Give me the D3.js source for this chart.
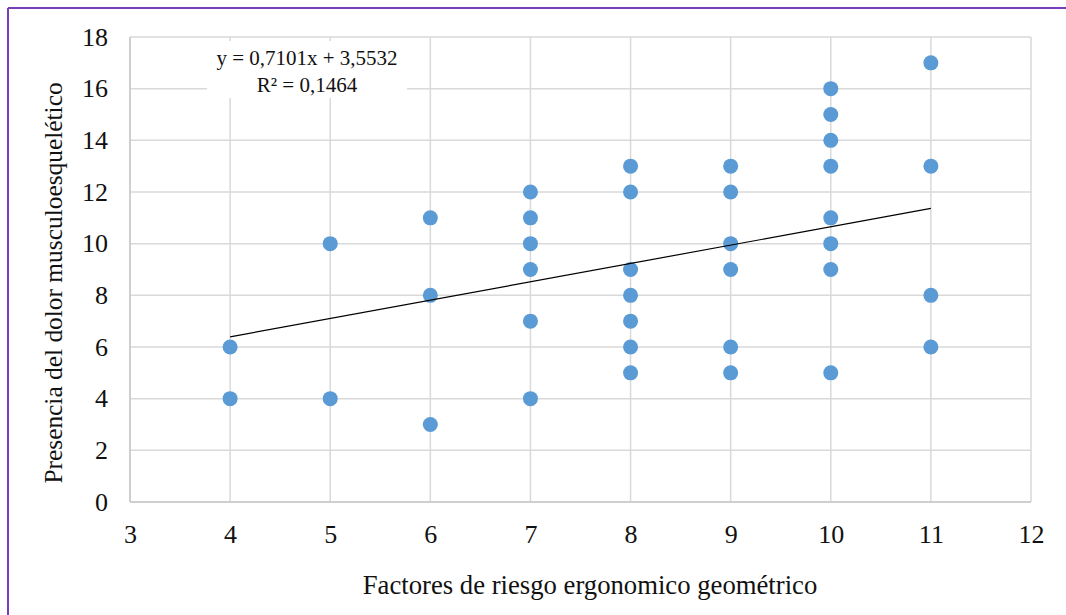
<!DOCTYPE html>
<html>
<head>
<meta charset="utf-8">
<script src="https://cdn.jsdelivr.net/npm/d3@7"></script>
<style>
  html, body { margin: 0; padding: 0; background: #fff; }
  svg { display: block; }
  svg text { font-family: "Liberation Serif", "Times New Roman", serif; fill: #111; }
</style>
</head>
<body>
<svg id="chart" width="1066" height="615"></svg>
<script>
// Ergonomic risk factor score (x) vs. musculoskeletal pain score (y)
const riskFactor = [4, 4, 5, 5, 6, 6, 6, 7, 7, 7, 7, 7, 7, 8, 8, 8, 8, 8, 8, 8, 9, 9, 9, 9, 9, 9, 10, 10, 10, 10, 10, 10, 10, 10, 11, 11, 11, 11];
const painScore  = [6, 4, 10, 4, 11, 8, 3, 12, 11, 10, 9, 7, 4, 13, 12, 9, 8, 7, 6, 5, 13, 12, 10, 9, 6, 5, 16, 15, 14, 13, 11, 10, 9, 5, 17, 13, 8, 6];

// Linear trend reported on the chart
const trendSlope = 0.7101;
const trendIntercept = 3.5532;
const trendLabel = ["y = 0,7101x + 3,5532", "R² = 0,1464"];

const xTicks = [3, 4, 5, 6, 7, 8, 9, 10, 11, 12];
const yTicks = [0, 2, 4, 6, 8, 10, 12, 14, 16, 18];

const xTitle = "Factores de riesgo ergonomico geométrico";
const yTitle = "Presencia del dolor musculoesquelético";

const svg = d3.select("#chart");

const x = d3.scaleLinear().domain([3, 12]).range([130, 1031]);
const y = d3.scaleLinear().domain([0, 18]).range([502, 37]);

// Outer frame (top and left edges visible)
svg.append("line").attr("x1", 8).attr("x2", 1066).attr("y1", 8).attr("y2", 8)
  .attr("stroke", "#7a3db8").attr("stroke-width", 2);
svg.append("line").attr("x1", 8).attr("x2", 8).attr("y1", 8).attr("y2", 615)
  .attr("stroke", "#7a3db8").attr("stroke-width", 2);

// Gridlines
const grid = svg.append("g");
grid.selectAll(".gx").data(xTicks).join("line")
  .attr("x1", d => x(d)).attr("x2", d => x(d))
  .attr("y1", y(18)).attr("y2", y(0))
  .attr("stroke", "#d9d9d9").attr("stroke-width", 1.5);
grid.selectAll(".gy").data(yTicks).join("line")
  .attr("x1", x(3)).attr("x2", x(12))
  .attr("y1", d => y(d)).attr("y2", d => y(d))
  .attr("stroke", "#d9d9d9").attr("stroke-width", 1.5);

// Axis lines
svg.append("line").attr("x1", x(3)).attr("x2", x(12)).attr("y1", y(0)).attr("y2", y(0))
  .attr("stroke", "#c8c8c8").attr("stroke-width", 1.5);
svg.append("line").attr("x1", x(3)).attr("x2", x(3)).attr("y1", y(18)).attr("y2", y(0))
  .attr("stroke", "#c8c8c8").attr("stroke-width", 1.5);

// Tick labels via d3 axes
const xAxis = svg.append("g").attr("transform", `translate(0,${y(0)})`)
  .call(d3.axisBottom(x).tickValues(xTicks).tickSize(0).tickPadding(23).tickFormat(d3.format("d")));
const yAxis = svg.append("g").attr("transform", `translate(${x(3)},0)`)
  .call(d3.axisLeft(y).tickValues(yTicks).tickSize(0).tickPadding(22).tickFormat(d3.format("d")));
[xAxis, yAxis].forEach(a => {
  a.attr("font-family", null).attr("font-size", null);
  a.select(".domain").remove();
  a.selectAll("text").attr("font-size", 26).attr("fill", "#111");
});

// Trendline label box
const lbl = svg.append("g");
lbl.append("rect").attr("x", 207).attr("y", 41).attr("width", 200).attr("height", 57).attr("fill", "#fff");
lbl.selectAll("text").data(trendLabel).join("text")
  .attr("x", 307).attr("y", (d, i) => 65 + i * 27)
  .attr("text-anchor", "middle").attr("font-size", 21)
  .text(d => d);

// Data points
const pts = riskFactor.map((v, i) => ({ x: v, y: painScore[i] }));
svg.append("g").selectAll("circle").data(pts).join("circle")
  .attr("cx", d => x(d.x)).attr("cy", d => y(d.y)).attr("r", 7.5)
  .attr("fill", "#5b9bd5");

// Linear trendline across the observed x range
const xMin = d3.min(riskFactor), xMax = d3.max(riskFactor);
svg.append("line")
  .attr("x1", x(xMin)).attr("y1", y(trendSlope * xMin + trendIntercept))
  .attr("x2", x(xMax)).attr("y2", y(trendSlope * xMax + trendIntercept))
  .attr("stroke", "#000").attr("stroke-width", 1.2);

// Axis titles
svg.append("text").attr("x", 590).attr("y", 594).attr("text-anchor", "middle")
  .attr("font-size", 26.7).text(xTitle);
svg.append("text").attr("transform", "translate(62,283) rotate(-90)")
  .attr("text-anchor", "middle").attr("font-size", 25.4).text(yTitle);
</script>
</body>
</html>
